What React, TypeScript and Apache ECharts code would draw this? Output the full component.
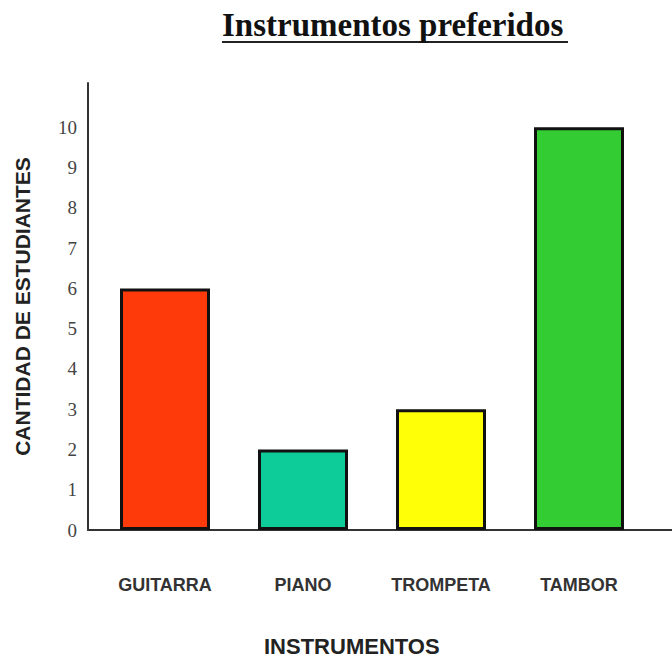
import React, { useEffect, useRef } from "react";
import * as echarts from "echarts";

const categories = ["GUITARRA", "PIANO", "TROMPETA", "TAMBOR"];
const values = [6, 2, 3, 10];
const barColors = ["#FF3A0A", "#0DCC99", "#FFFF08", "#33CC33"];
const yTicks = [0, 1, 2, 3, 4, 5, 6, 7, 8, 9, 10];

export default function App() {
  const ref = useRef<HTMLDivElement>(null);
  useEffect(() => {
    if (!ref.current) return;
    const chart = echarts.init(ref.current, null, { renderer: "svg" });
    const yMax = 11.1;
    chart.setOption({
      animation: false,
      backgroundColor: "#ffffff",
      title: [
        {
          text: "Instrumentos preferidos",
          left: 222,
          top: 8,
          padding: 0,
          textStyle: {
            fontFamily: "Liberation Serif",
            fontWeight: "bold",
            fontSize: 33,
            color: "#111",
          },
        },
        {
          text: "INSTRUMENTOS",
          left: 264,
          top: 635,
          padding: 0,
          textStyle: {
            fontFamily: "Liberation Sans",
            fontWeight: "bold",
            fontSize: 22,
            color: "#222",
          },
        },
      ],
      graphic: [
        {
          type: "line",
          shape: { x1: 222, y1: 42, x2: 568, y2: 42 },
          style: { stroke: "#222", lineWidth: 2 },
        },
      ],
      grid: [
        { left: 88, right: 0, top: 83, bottom: 129 },
        { left: 96, right: 24, top: 83, bottom: 129 },
      ],
      xAxis: [
        {
          gridIndex: 0,
          type: "value",
          min: 0,
          max: 1,
          axisLine: { show: true, onZero: false, lineStyle: { color: "#333", width: 2 } },
          axisTick: { show: false },
          axisLabel: { show: false },
          splitLine: { show: false },
        },
        {
          gridIndex: 1,
          type: "category",
          data: categories,
          axisLine: { show: false },
          axisTick: { show: false },
          axisLabel: {
            margin: 46,
            fontFamily: "Liberation Sans",
            fontWeight: "bold",
            fontSize: 18,
            color: "#333",
          },
        },
      ],
      yAxis: [
        {
          gridIndex: 0,
          type: "value",
          min: 0,
          max: yMax,
          interval: 1,
          name: "CANTIDAD DE ESTUDIANTES",
          nameLocation: "middle",
          nameRotate: 90,
          nameGap: 55,
          nameTextStyle: {
            fontFamily: "Liberation Sans",
            fontWeight: "bold",
            fontSize: 21,
            color: "#222",
          },
          axisLine: { show: true, lineStyle: { color: "#333", width: 2 } },
          axisTick: { show: false },
          splitLine: { show: false },
          axisLabel: {
            margin: 11,
            fontFamily: "Liberation Serif",
            fontSize: 19,
            color: "#444",
            formatter: (v: number) => (yTicks.includes(v) ? String(v) : ""),
          },
        },
        {
          gridIndex: 1,
          type: "value",
          min: 0,
          max: yMax,
          show: false,
        },
      ],
      series: [
        {
          type: "bar",
          xAxisIndex: 1,
          yAxisIndex: 1,
          barWidth: 90,
          data: values.map((v, i) => ({
            value: v,
            itemStyle: { color: barColors[i], borderColor: "#111", borderWidth: 3 },
          })),
        },
      ],
    });
    return () => chart.dispose();
  }, []);
  return (
    <div
      ref={ref}
      style={{ position: "fixed", left: 0, top: 0, width: 672, height: 659 }}
    />
  );
}
